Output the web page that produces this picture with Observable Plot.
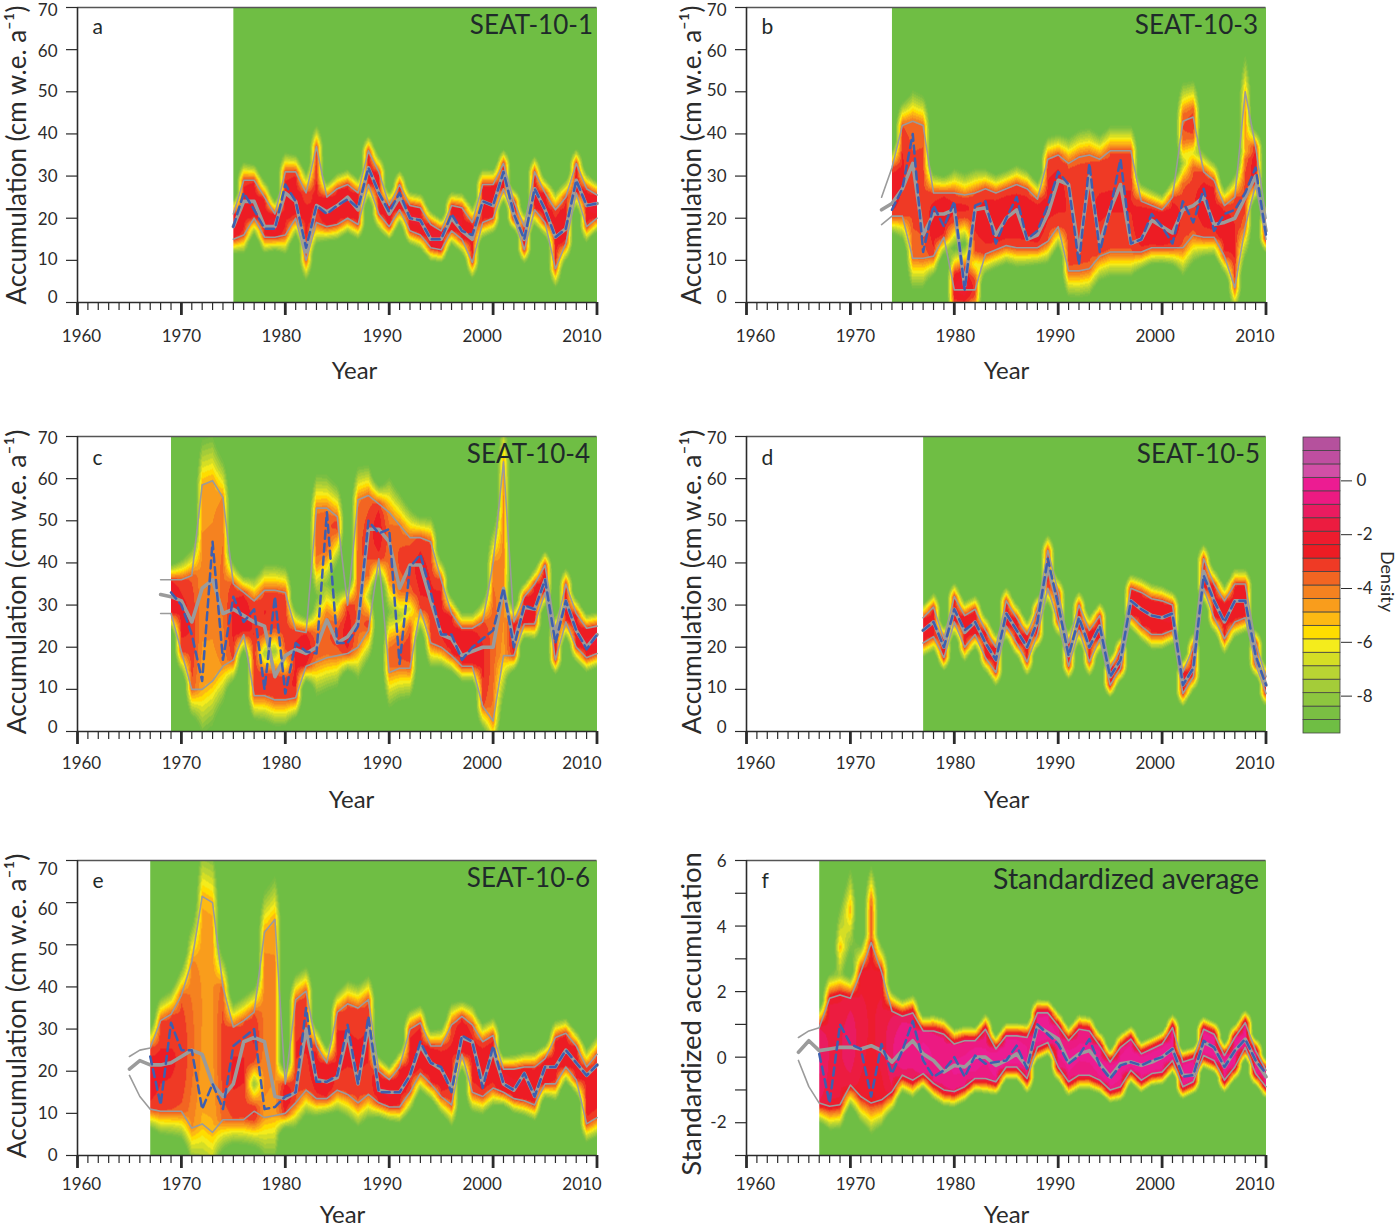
<!DOCTYPE html>
<html><head><meta charset="utf-8">
<script src="https://cdn.jsdelivr.net/npm/d3@7"></script>
<script src="https://cdn.jsdelivr.net/npm/@observablehq/plot@0.6"></script>
<style>
html,body{margin:0;padding:0;background:#fff;overflow:hidden}
#page{position:relative;width:1400px;height:1229px;overflow:hidden}
#page svg{position:absolute;background:transparent;overflow:visible}
</style></head><body><div id="page"></div>
<script>
// density legend
const densityThresholds = [-9,-8.5,-8,-7.5,-7,-6.5,-6,-5.5,-5,-4.5,-4,-3.5,-3,-2.5,-2,-1.5,-1,-0.5,0,0.5,1];
const densityColors = ["#6fbe44","#7abf43","#8dc63f","#a4cc39","#b9d433","#d5de25","#f4ec1c","#ffdd00","#fdb913","#f99d1c","#f58220","#f26522","#ef3a25","#ed1c24","#ed1c2e","#ec1c40","#ea1b60","#ec1a82","#ec1c92","#d14fa6","#bf4ea0","#b5519d"];
const densityTicks = [0,-2,-4,-6,-8];

// a: SEAT-10-1
const aFirst = 1975, aGreen = 1975;
const aHi = [21,29,29,25,21, 31,31,26,37,25,27,28,26,36,31, 23,28,23,22.5,18.5,17,23,22.5,19,28, 28,33,24,18,31,26,22,25,33,27, 25.5];
const aMid = [18,24,24,18,18, 26,24,12,23,21.5,23,25,22,32,26, 21,25,20,19.5,15,15,20,17,15,24, 23,31,21,15,27,22,15.5,17.5,29,23, 23.5];
const aLo = [15,16,20,15.5,15.5, 16,20,10,19,18,18.5,20,18.5,28,21, 18,22,17,16,13,12.5,17,15,9.5,19, 20,27,20,12.5,22,19,8,14,26,18, 20];
const aDash = [18,26,22,17.5,17.5, 28,24,13,23,21,23,24.5,22.5,32,26, 21.5,26,20,19.5,15,15,21,17,16,24, 23,31,21,15,27,22,15.5,17.5,29,23, 23.5];

// b: SEAT-10-3
const bFirst = 1973, bGreen = 1974;
const bHi = [25, 32,42,43,42,26,26, 26,25.5,26,27,26,27,28,27,24.5,34, 35,33,34.5,35,34,36,36,36,24,23, 22,25,43,44,31,29,23,25,50,37, 20];
const bMid = [22, 23.5,27,33,16,21,21, 22,4,22,22.5,16,20,22,15,16,21, 29,28,12,30,14,22,28,14,15,19.5, 18,16.5,22,23,25,18.5,19,20,25,30, 17];
const bLo = [18.5, 20.5,20.5,10.5,10.5,11,15.5, 3,3,3,11.5,12.5,13.5,13,13,13,14.5, 18,7.5,7.5,8,11,12,12,12,12,13, 13,13,13,16,15.5,15.5,11,3.5,18,28, 15];
const bDash = [22,27,40,12,23,18, 24,3,23,24,14,20,25,15,17,23, 31,28,9,33,12,22,34,14,15,21, 18,14,24,19,27,17,21,22,26,32, 16];
const bLobes = {1980:[[0.5,7,-2.8],[19,26]],1981:[[0.5,8,-2.5],[20,25]],1982:[[1,6,-3.5],[12,26]],2002:[[13,28],[38,45,-3.8]],2003:[[16,32],[39,46,-3.5]],2008:[[18,34],[34,50,-5]]};

// c: SEAT-10-4
const cFirst = 1968, cGreen = 1969;
const cHi = [36,36, 36,37,58.5,59.5,55.5,35,33,31,33.5,33.5, 33,24,23.5,53,53,51,30,55,56,54, 52,49,46,46,45,36,28,24.5,24.5,26, 40,64,26,32,35,39.5,24,35,28,24.5, 25];
const cMid = [32.5,32, 31,26,34,36,28,29,27.5,26,25,13, 18,19.5,18.5,20,26.5,21,22.5,26,48,48, 45,34,39.5,39.5,31,23,22,18,19,20, 20,34,21,29.5,29,36,22,31,24,20, 23];
const cLo = [28,28, 19,10,10,12,15.5,17,23,8.5,8.5,7.5, 7.5,8,15.5,16.5,17.5,18,18.5,20,24,41, 14,15,15,29,21,20,18,15.5,15.5,6, 2.5,18,18,25.5,25.5,33,17,26,20,17.5, 18.5];
const cDash = [33, 30,23,12,45,17,32,26,29,10,32, 9,21,19,18.5,52,21,21,25,50,47, 48,16,39,42,33,23,23,17,20,22, 24,34,20,30,29,36,21,31,24,19.5, 23];
const cLobes = {1978:[[8.5,14],[23,33.5]],1979:[[7.5,14],[24,33.5]],1980:[[7.5,13],[19,33]],1983:[[16.5,24],[40,53]],1984:[[17.5,28],[42,53]],1985:[[18,26],[47,51]],1988:[[24,27],[37,56]],1990:[[14,21],[36,52]],1991:[[15,22],[33,49]],1992:[[15,25],[33,46]]};

// d: SEAT-10-5
const dFirst = 1977, dGreen = 1977;
const dHi = [27,29.5,22, 32,27.5,29,24,20,31,27,23,29,43, 33,21,30,24,27.5,15,19.5,34,33,31.5, 31,30,14,20,41,35,31,35,35,21, 13];
const dMid = [24,26,20, 29,23.5,26,21,17,28,24,20,26,39, 30,18,27,20,25,13,17,31,29,27.5, 27,28,11,15,38,31,26,31,31,18, 11];
const dLo = [21,22.5,17.5, 26,20,23,17.5,14,25,21,16.5,23,34, 26,15.5,24,16.5,22,11,15,27.5,25,23, 23,24,9,13,34,27,22,26,27,16, 9];
const dDash = [24,26,20, 29,24,26,21,17,28,24,20,26,41, 30,18,27,20,25,13,17,31,29,27.5, 27,28,11,15,37,31,26,31,31,18, 11];

// e: SEAT-10-6
const eFirst = 1965, eGreen = 1967;
const eHi = [23.5,25,25.5,32,33.5, 38,46,61.5,60,40,30.5,32,34,53,56, 17,37,39,26,22,34,36,35,37,20, 18,21,30,31.5,26,26,31,33,31,27, 28.5,20.5,20.5,21,21,23,28,29,26,21, 24];
const eMid = [20.5,22.5,21.5,21.5,22, 23.5,25,24,17,14,17,27,28,27,14, 13.5,15,30,18,17.5,18.5,29,17,31,15.5, 15,15,19,26,22,20.5,16,28,27,17, 25,17,15.5,19.5,14,21,21,25,22,19, 21.5];
const eLo = [19,14,11,10.5,10.5, 10.5,6.5,7.5,5.5,8.5,8.5,8.5,10.5,9,9.5, 10,12.5,15.5,13.5,13.5,15.5,14.5,12.5,14.5,12.5, 11.5,11.5,15,19.5,17,14,12,24,15,14, 16,15,13.5,13,12,17,17,21,18,7.5, 9];
const eDash = [23.5,12,31.5, 25,25,11,17,11,26,28,30,11,11.5, 14,15,35,17.5,17.5,19,31,17,33,15, 15,15,19,27,22,21,15,28.5,27,16, 26,17,15.5,19.5,14,21,21,25,22,19, 21.5];
const eLobes = {1977:[[8,12],[22,34]]};

// f: Standardized average
const fFirst = 1965, fGreen = 1967;
const fHi = [0.6,0.8,0.9,1.8,1.9, 1.8,2.6,3.5,2.6,1.4,1.25,1.35,0.8,0.8,0.7, 0.4,0.5,0.5,0.85,0.25,0.65,0.65,0.6,1.35,1.35, 0.95,0.5,0.85,0.8,0.35,-0.15,0.3,0.55,0.1,0.25, 0.4,0.9,-0.15,-0.05,0.85,0.7,0.05,0.6,1.05,0.2, -0.4];
const fMid = [0.15,0.5,0.2,0.25,0.3, 0.3,0.25,0.35,0.2,-0.15,0.2,0.5,0.1,-0.1,-0.45, -0.25,-0.3,0,0,-0.25,-0.1,0.1,-0.3,0.95,0.75, 0.55,-0.15,0.1,0.2,-0.2,-0.6,-0.2,-0.15,-0.25,-0.15, 0,0.25,-0.55,-0.55,0.45,0.3,-0.3,0.2,0.55,-0.1, -0.6];
const fLo = [-0.1,-0.9,-1.4,-1.5,-1.45, -0.85,-1.2,-1.4,-1.3,-1.05,-0.55,-0.7,-0.5,-0.8,-1, -1.05,-0.9,-0.65,-0.65,-0.75,-0.3,-0.3,-0.65,0.3,0.45, -0.3,-0.75,-0.55,-0.55,-0.7,-1,-0.9,-0.4,-0.7,-0.5, -0.45,-0.1,-0.9,-0.75,0.05,-0.1,-0.7,-0.3,0.3,-0.5, -0.9];
const fDash = [0.1,-1.4,1, 0.4,0.25,-1.2,0.4,-0.5,0.2,1.1,-0.1,-0.6,-0.4, 0,-0.6,0.05,-0.2,-0.15,-0.1,0.35,-0.35,1,0.7, 0.4,-0.2,0.05,0.55,-0.25,-0.65,-0.25,-0.15,-0.25,-0.1, 0,0.25,-0.6,-0.55,0.5,0.3,-0.3,0.2,0.55,-0.1, -0.5];
const fLobes = {1969:[[-1.45,1.9],[3.2,3.5,-5.5]],1970:[[-0.85,1.8],[4.2,4.8,-5.5]],1972:[[-1.4,3.5],[3.5,4.8,-3.6]]};

const yearTicks = d3.range(1960,2011);
const decadeTicks = [1960,1970,1980,1990,2000,2010];
const accumTicks = [0,10,20,30,40,50,60,70];
const accumLabel = "Accumulation (cm w.e. a⁻¹)";

const panels = [
 {letter:"a",title:"SEAT-10-1",L:77,T:7,first:aFirst,green:aGreen,hi:aHi,mid:aMid,lo:aLo,dash:aDash,lobes:{},domain:[0,70],ticks:accumTicks,labelTicks:accumTicks,ylabel:accumLabel,
  xShift:[4,0,-4,-7,-11,-15],yShift:[-5,-1,1,0,0,0,2,3],xPad:27,yearDx:277,yearDy:76,ylabDx:-60,ylabDy:0,ylabSize:26,titleDx:-4,titleDy:8,titleSize:26,letterDy:12},
 {letter:"b",title:"SEAT-10-3",L:746,T:7,first:bFirst,green:bGreen,hi:bHi,mid:bMid,lo:bLo,dash:bDash,lobes:bLobes,domain:[0,70],ticks:accumTicks,labelTicks:accumTicks,ylabel:accumLabel,
  xShift:[9,5,1,-3,-7,-11],yShift:[-5,-1,1,0,0,-1,2,3],xPad:27,yearDx:260,yearDy:76,ylabDx:-54,ylabDy:0,ylabSize:26,titleDx:-8,titleDy:8,titleSize:26,letterDy:12},
 {letter:"c",title:"SEAT-10-4",L:77,T:436,first:cFirst,green:cGreen,hi:cHi,mid:cMid,lo:cLo,dash:cDash,lobes:cLobes,domain:[0,70],ticks:accumTicks,labelTicks:accumTicks,ylabel:accumLabel,
  xShift:[4,0,-4,-7,-11,-15],yShift:[-4,-2,0,0,0,0,1,2],xPad:25,yearDx:274,yearDy:76,ylabDx:-60,ylabDy:-2,ylabSize:26.5,titleDx:-7,titleDy:8,titleSize:26,letterDy:14},
 {letter:"d",title:"SEAT-10-5",L:746,T:436,first:dFirst,green:dGreen,hi:dHi,mid:dMid,lo:dLo,dash:dDash,lobes:{},domain:[0,70],ticks:accumTicks,labelTicks:accumTicks,ylabel:accumLabel,
  xShift:[9,5,1,-3,-7,-11],yShift:[-4,-2,0,0,0,0,1,2],xPad:25,yearDx:260,yearDy:76,ylabDx:-54,ylabDy:-2,ylabSize:26.5,titleDx:-6,titleDy:8,titleSize:26,letterDy:14},
 {letter:"e",title:"SEAT-10-6",L:77,T:860,first:eFirst,green:eGreen,hi:eHi,mid:eMid,lo:eLo,dash:eDash,lobes:eLobes,domain:[0,70],ticks:accumTicks,labelTicks:accumTicks,ylabel:accumLabel,
  xShift:[4,0,-4,-7,-11,-15],yShift:[0,0,0,0,1,5,7,9],xPad:22,yearDx:265,yearDy:67,ylabDx:-60,ylabDy:-2,ylabSize:26.5,titleDx:-7,titleDy:8,titleSize:26,letterDy:13},
 {letter:"f",title:"Standardized average",L:746,T:860,first:fFirst,green:fGreen,hi:fHi,mid:fMid,lo:fLo,dash:fDash,lobes:fLobes,domain:[-3,6],ticks:[-3,-2,-1,0,1,2,3,4,5,6],labelTicks:[-2,0,2,4,6],ylabel:"Standardized accumulation",
  xShift:[9,5,1,-3,-7,-11],yShift:[0,1,1,1,1],xPad:22,yearDx:260,yearDy:67,ylabDx:-54,ylabDy:6,ylabSize:27.5,titleDx:-7,titleDy:8,titleSize:28.5,letterDy:13}
];

const ML = 77, MR = 8, MT = 8, MB = 72, W = 519.5, H = 295;
const ink = "#2b2b2b";
const colorScale = {type:"threshold",domain:densityThresholds,range:densityColors};
// how the log density of a year's envelope falls as the envelope widens
const widthToDensity = d3.scaleLog().domain([1,2,3,6,15,30,45,60]).range([-0.45,-1,-1.7,-2.7,-3,-3.4,-4.5,-5]).clamp(true);

function columnValue(p, idx, y, pxPerUnit){
  const yr = p.first + idx, lo = p.lo[idx], hi = p.hi[idx];
  const width = Math.max(hi - lo, 0.3);
  const segs = p.lobes[yr] || [[lo,hi]];
  const base0 = widthToDensity(width);
  const fringe = 8 + 0.1 * width * pxPerUnit;
  let best = -12;
  for (const s of segs){
    const base = s.length > 2 ? s[2] : base0;
    const c = (s[0]+s[1])/2, h = Math.max((s[1]-s[0])/2,1e-6);
    let v;
    if (Math.abs(y-c) <= h){ const u = (y-c)/h; v = base + 0.3 - 0.6*u*u; }
    else { const d = (Math.abs(y-c)-h)*pxPerUnit; v = base - 0.3 - (d/fringe)*(7.5 + base - 0.3); }
    if (v > best) best = v;
  }
  return best;
}
function densityField(p){
  const pxPerUnit = H/(p.domain[1]-p.domain[0]);
  return (x,y) => {
    const f = Math.max(x, p.green) - p.first;
    const i = Math.min(Math.floor(f), p.hi.length-1), j = Math.min(i+1, p.hi.length-1), t = f-i;
    return (1-t)*columnValue(p,i,y,pxPerUnit) + t*columnValue(p,j,y,pxPerUnit);
  };
}

const page = document.getElementById("page");
for (const p of panels){
  const rows = p.hi.map((h,i)=>({year:p.first+i,hi:h,mid:p.mid[i],lo:p.lo[i]}));
  const dashRows = p.dash.map((v,i)=>({year:p.green+i,v}));
  const plot = Plot.plot({
    width:W+ML+MR,height:H+MT+MB,marginLeft:ML,marginRight:MR,marginTop:MT,marginBottom:MB,
    style:{fontFamily:"Lato, 'Open Sans', sans-serif",fontSize:"17px",color:ink,background:"transparent"},
    x:{domain:[1960,2010]},y:{domain:p.domain},color:colorScale,
    marks:[
      Plot.raster({fill:densityField(p),x1:p.green,x2:2010,y1:p.domain[0],y2:p.domain[1],pixelSize:1,imageFilter:"blur(0.5px)"}),
      Plot.line(rows,{x:"year",y:"hi",stroke:"#9b9b9b",strokeWidth:1.6}),
      Plot.line(rows,{x:"year",y:"lo",stroke:"#9b9b9b",strokeWidth:1.6}),
      Plot.line(rows,{x:"year",y:"mid",stroke:"#9b9b9b",strokeWidth:3.6}),
      Plot.line(dashRows,{x:"year",y:"v",stroke:"#3d5fb0",strokeWidth:2.5,strokeDasharray:"8,5"}),
      Plot.ruleY([p.domain[0]],{stroke:ink,strokeWidth:1.6}),
      Plot.ruleY([p.domain[1]],{stroke:"#555",strokeWidth:1.6}),
      Plot.ruleX([1960],{stroke:ink,strokeWidth:1.6}),
      Plot.axisX(yearTicks,{tickSize:8,fill:"none",stroke:ink,strokeWidth:1.2,label:null}),
      Plot.axisX(decadeTicks,{tickSize:13,fill:"none",stroke:ink,strokeWidth:2.8,label:null}),
      ...decadeTicks.map((t,i)=>Plot.axisX([t],{tickSize:0,tickPadding:p.xPad,dx:p.xShift[i],tickFormat:d=>String(d),label:null})),
      Plot.axisY(p.ticks,{tickSize:11,fill:"none",stroke:ink,strokeWidth:1.2,label:null}),
      ...p.labelTicks.map((t,i)=>Plot.axisY([t],{tickSize:0,tickPadding:20,dy:p.yShift[i],tickFormat:d=>String(d),label:null})),
      Plot.text([p.title],{frameAnchor:"top-right",textAnchor:"end",dx:p.titleDx,dy:p.titleDy,fontSize:p.titleSize,fill:"#1f2a2a"}),
      Plot.text([p.letter],{frameAnchor:"top-left",textAnchor:"start",dx:15,dy:p.letterDy,fontSize:21,fill:"#1f2a2a"}),
      Plot.text(["Year"],{frameAnchor:"bottom-left",textAnchor:"middle",dx:p.yearDx,dy:p.yearDy,fontSize:24,fill:ink}),
      Plot.text([p.ylabel],{frameAnchor:"left",rotate:-90,textAnchor:"middle",dx:p.ylabDx,dy:p.ylabDy,fontSize:p.ylabSize,fill:ink})
    ]
  });
  plot.style.left = (p.L-ML)+"px";
  plot.style.top = (p.T-MT)+"px";
  page.appendChild(plot);
}

// Density key
const keyBands = densityColors.map((c,i)=>({lowEdge:-9.5+i*0.5,highEdge:-9+i*0.5,mid:-9.25+i*0.5}));
const key = Plot.plot({
  width:37+56,height:296+16,marginLeft:0,marginRight:56,marginTop:8,marginBottom:8,
  style:{fontFamily:"Lato, 'Open Sans', sans-serif",fontSize:"17px",color:ink,background:"transparent"},
  x:{domain:[0,1],axis:null},y:{domain:[-9.5,1.5],axis:null},color:colorScale,
  marks:[
    Plot.rect(keyBands,{x1:0,x2:1,y1:"lowEdge",y2:"highEdge",fill:"mid",stroke:"#444",strokeWidth:0.8}),
    Plot.axisY(densityTicks,{anchor:"right",tickSize:11,tickPadding:5,dy:3,tickFormat:d=>String(d),label:null,stroke:ink}),
    Plot.text(["Density"],{frameAnchor:"right",rotate:90,textAnchor:"middle",dx:46,dy:-4,fontSize:18,fill:ink})
  ]
});
key.style.left = "1303px";
key.style.top = (437-8)+"px";
page.appendChild(key);
</script></body></html>
